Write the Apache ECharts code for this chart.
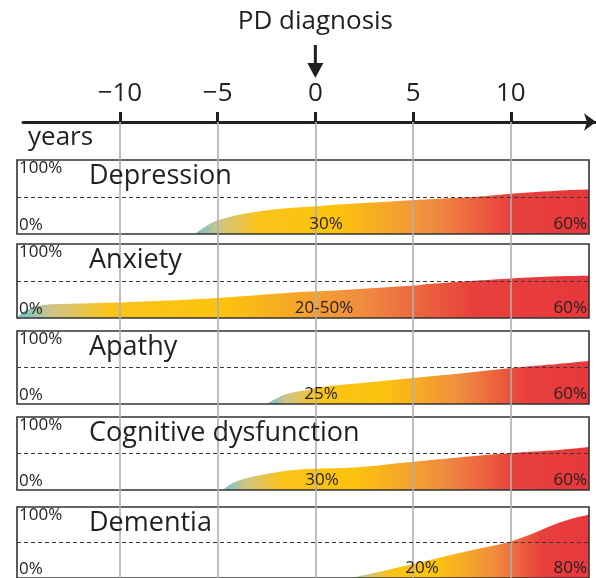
<!DOCTYPE html>
<html>
<head>
<meta charset="UTF-8">
<title>Non-motor symptoms around PD diagnosis</title>
<script src="https://cdn.jsdelivr.net/npm/echarts@6/dist/echarts.min.js"></script>
<style>
  html, body { margin: 0; height: 100%; background: #fff; }
  #main { width: 596px; height: 578px; }
</style>
</head>
<body>
<div id="main"></div>
<script>
// ---- data: [years from diagnosis, % of patients] ----
var conditions = ['Depression', 'Anxiety', 'Apathy', 'Cognitive dysfunction', 'Dementia'];
var depression = [[-6.16, 0], [-5.8, 7], [-5.24, 16], [-4.4, 23], [-3.5, 28], [-1.8, 34], [0.2, 38], [5.1, 46], [8, 50], [10.9, 56], [12.4, 58.5], [14, 60]];
var anxiety = [[-15.27, 0], [-14.9, 9], [-14.1, 17], [-12, 19.5], [-10, 21], [-5, 27], [-0.8, 35], [0.2, 36], [5.1, 44], [5.8, 46], [9.8, 53], [12, 56], [14, 57]];
var apathy = [[-2.47, 0], [-2.1, 6], [-1.45, 14], [-0.5, 19], [0.24, 23], [2.5, 29], [5.15, 36], [7.5, 42], [9.9, 49], [12, 54], [14, 59]];
var cognitive = [[-4.73, 0], [-4.4, 7], [-3.7, 15], [-2.5, 22], [-0.8, 28], [2.1, 31], [5.15, 39], [9.2, 49], [12, 54], [14, 59]];
var dementia = [[1.8, 0], [3.8, 12], [5.2, 21], [6.4, 29], [8, 39], [9.8, 50], [10.8, 59], [12.2, 75], [13.2, 84], [14, 89]];
var prevalence = [depression, anxiety, apathy, cognitive, dementia];

var midLabels = ['30%', '20-50%', '25%', '30%', '20%'];
var midYears = [0.54, 0.44, 0.29, 0.34, 5.46];
var endLabels = ['60%', '60%', '60%', '60%', '80%'];
var yearTicks = [-10, -5, 0, 5, 10];

// ---- layout ----
var panelTops = [160, 244, 331, 417, 507];
var panelHeights = [74, 74, 73, 73, 80];
var YEAR_MIN = -15.27, YEAR_MAX = 14.0;
var font = '"Open Sans", "Noto Sans", sans-serif';
var ink = '#231f20';

var fillStops = [
  {offset: 0, color: '#6cc2cc'},
  {offset: 0.06, color: '#cfc487'},
  {offset: 0.16, color: '#f9c31a'},
  {offset: 0.36, color: '#fcc30d'},
  {offset: 0.6, color: '#f08d40'},
  {offset: 0.8, color: '#e8403c'},
  {offset: 1, color: '#e7383c'}
];

var chart = echarts.init(document.getElementById('main'));

var grids = [{left: 23, width: 573, top: 122, bottom: 0}];
var xAxes = [{
  type: 'value', gridIndex: 0, position: 'top',
  min: -14.96, max: 14.36,
  axisLine: {show: true, onZero: false, symbol: ['none', 'arrow'], symbolSize: [13, 12], lineStyle: {color: ink, width: 3}},
  axisTick: {show: true, customValues: yearTicks, length: 10, lineStyle: {color: ink, width: 3}},
  axisLabel: {
    customValues: yearTicks, margin: 15, color: ink, fontSize: 26, fontFamily: font,
    formatter: function (v) { return v < 0 ? '\u2212' + Math.abs(v) : String(v); }
  },
  splitLine: {show: false}
}];
var yAxes = [{type: 'value', gridIndex: 0, show: false, min: 0, max: 1}];
var titles = [{text: 'years', left: 28, top: 125, padding: 0,
  textStyle: {fontSize: 26, fontWeight: 'normal', color: ink, fontFamily: font}}];
var series = [{
  type: 'line', xAxisIndex: 0, yAxisIndex: 0, data: [], silent: true, z: 1,
  markLine: {
    silent: true, symbol: ['none', 'none'], label: {show: false},
    lineStyle: {color: '#adafb2', width: 1.6, type: 'solid'},
    data: yearTicks.map(function (v) { return {xAxis: v}; })
  }
}];

conditions.forEach(function (name, i) {
  var g = i + 1;
  grids.push({
    left: 17, width: 572, top: panelTops[i], height: panelHeights[i],
    show: true, z: 5, borderColor: '#333', borderWidth: 1.6, backgroundColor: 'transparent'
  });
  xAxes.push({type: 'value', gridIndex: g, min: YEAR_MIN, max: YEAR_MAX, show: false});
  yAxes.push({
    type: 'value', gridIndex: g, min: 0, max: 100, z: 6,
    axisLine: {show: false}, axisTick: {show: false}, splitLine: {show: false},
    axisLabel: {
      inside: true, margin: 2, customValues: [0, 100], formatter: '{value}%',
      verticalAlignMinLabel: 'bottom', verticalAlignMaxLabel: 'top',
      color: ink, fontSize: 17, fontFamily: font
    }
  });
  titles.push({
    text: name, left: 89, top: panelTops[i] + 3, padding: 0,
    textStyle: {fontSize: 27, fontWeight: 'normal', color: ink, fontFamily: font}
  });
  series.push({
    name: name, type: 'line', xAxisIndex: g, yAxisIndex: g,
    data: prevalence[i], smooth: 0.35, symbol: 'none', z: 2,
    lineStyle: {width: 0},
    areaStyle: {opacity: 1, color: new echarts.graphic.LinearGradient(0, 0, 1, 0, fillStops)},
    markLine: {
      silent: true, symbol: ['none', 'none'], label: {show: false},
      lineStyle: {color: '#3a3a3a', width: 1, type: [4, 3]},
      data: [{yAxis: 50}]
    },
    markPoint: {
      silent: true, symbol: 'circle', symbolSize: 0,
      label: {show: true, position: 'top', distance: 1, color: ink, fontSize: 17, fontFamily: font},
      data: [
        {coord: [midYears[i], 0], label: {formatter: midLabels[i]}},
        {coord: [YEAR_MAX, 0], label: {formatter: endLabels[i], align: 'right', offset: [-2, 0]}}
      ]
    }
  });
});

chart.setOption({
  animation: false,
  title: titles,
  grid: grids,
  xAxis: xAxes,
  yAxis: yAxes,
  series: series
});

// "PD diagnosis" marker placed at year 0 on the timeline axis
var x0 = chart.convertToPixel({xAxisIndex: 0}, 0);
chart.setOption({
  graphic: [
    {type: 'text', style: {text: 'PD diagnosis', x: x0, y: 9, align: 'center', verticalAlign: 'top',
      fontSize: 26, fontFamily: font, fill: ink}},
    {type: 'line', shape: {x1: x0, y1: 45, x2: x0, y2: 66}, style: {stroke: ink, lineWidth: 3}},
    {type: 'polygon', shape: {points: [[x0 - 8, 63], [x0 + 8, 63], [x0, 78]]}, style: {fill: ink}}
  ]
});
</script>
</body>
</html>
